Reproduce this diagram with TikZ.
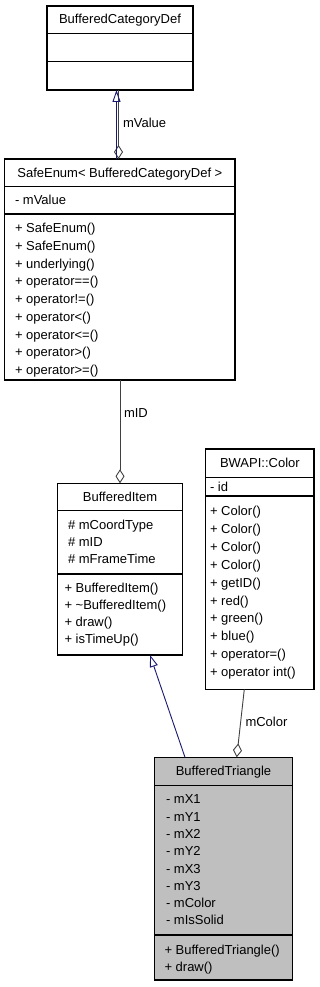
\documentclass[tikz,border=0pt]{standalone}
\usepackage{fontspec}
\setmainfont{Liberation Sans}
\usetikzlibrary{arrows.meta}
\definecolor{edgeblue}{HTML}{191970}
\definecolor{edgegray}{HTML}{404040}
\definecolor{hlgray}{HTML}{BFBFBF}
\tikzset{
 classbox/.style={draw=black, line width=1.1pt, fill=white, inner sep=0pt, outer sep=0pt},
 divline/.style={draw=black, line width=1.1pt},
 txt/.style={inner sep=0pt, outer sep=0pt, anchor=base west, font=\fontsize{13}{15}\selectfont},
 ctxt/.style={txt, anchor=base},
 inherit/.style={draw=edgeblue, line width=0.9pt, -{Triangle[open, length=12pt, width=8pt, line width=0.9pt]}},
 aggr/.style={draw=edgegray, line width=0.9pt, -{Diamond[open, length=14pt, width=9pt, line width=0.9pt]}},
}
\begin{document}
\begin{tikzpicture}[x=1pt,y=-1pt]
\useasboundingbox (0,0) rectangle (319,987);

% BufferedCategoryDef
\node[classbox, minimum width=146pt, minimum height=84pt] (cat) at (120,48) {};
\draw[divline] ([yshift=-27.7pt]cat.north west) -- ([yshift=-27.7pt]cat.north east);
\draw[divline] ([yshift=-55.7pt]cat.north west) -- ([yshift=-55.7pt]cat.north east);
\node[ctxt] (cat-t) at (120,23.5) {BufferedCategoryDef};

% SafeEnum
\node[classbox, minimum width=230.3pt, minimum height=221pt] (se) at (119.85,269.5) {};
\draw[divline] ([yshift=-27.7pt]se.north west) -- ([yshift=-27.7pt]se.north east);
\draw[divline] ([yshift=-55pt]se.north west) -- ([yshift=-55pt]se.north east);
\node[ctxt] (se-t) at (119.85,177.2) {SafeEnum< BufferedCategoryDef >};
\node[txt] (se-a0) at (15,204.5) {- mValue};
\foreach \s [count=\i from 0] in {SafeEnum(),SafeEnum(),underlying(),operator==(),operator!=(),operator<(),operator<=(),operator>(),operator>=()}
  \node[txt] (se-m\i) at (15,{232.8+17.7*\i}) {+ \s};

% BufferedItem
\node[classbox, minimum width=125.4pt, minimum height=171.7pt] (bi) at (120,569.15) {};
\draw[divline] ([yshift=-27.4pt]bi.north west) -- ([yshift=-27.4pt]bi.north east);
\draw[divline] ([yshift=-90.7pt]bi.north west) -- ([yshift=-90.7pt]bi.north east);
\node[ctxt] (bi-t) at (120,501.8) {BufferedItem};
\foreach \s [count=\i from 0] in {mCoordType,mID,mFrameTime}
  \node[txt] (bi-a\i) at (68,{529.5+17.2*\i}) {\# \s};
\foreach \s [count=\i from 0] in {BufferedItem(),{\textasciitilde BufferedItem()},draw(),isTimeUp()}
  \node[txt] (bi-m\i) at (64.5,{592.8+17*\i}) {+ \s};

% BWAPI::Color
\node[classbox, minimum width=108.3pt, minimum height=240.3pt] (col) at (259.85,569.15) {};
\draw[divline] ([yshift=-28.3pt]col.north west) -- ([yshift=-28.3pt]col.north east);
\draw[divline] ([yshift=-47pt]col.north west) -- ([yshift=-47pt]col.north east);
\node[ctxt] (col-t) at (259.85,467.2) {BWAPI::Color};
\node[txt] (col-a0) at (210,491.8) {- id};
\foreach \s [count=\i from 0] in {Color(),Color(),Color(),Color(),getID(),red(),green(),blue(),operator=(),operator int()}
  \node[txt] (col-m\i) at (210,{515.5+17.9*\i}) {+ \s};

% BufferedTriangle
\node[classbox, fill=hlgray, minimum width=138.4pt, minimum height=222.7pt] (bt) at (223.5,868.65) {};
\draw[divline] ([yshift=-28.4pt]bt.north west) -- ([yshift=-28.4pt]bt.north east);
\draw[divline] ([yshift=-177.7pt]bt.north west) -- ([yshift=-177.7pt]bt.north east);
\node[ctxt] (bt-t) at (223.5,775.5) {BufferedTriangle};
\foreach \s [count=\i from 0] in {mX1,mY1,mX2,mY2,mX3,mY3,mColor,mIsSolid}
  \node[txt] (bt-a\i) at (166,{803.8+17.3*\i}) {- \s};
\foreach \s [count=\i from 0] in {BufferedTriangle(),draw()}
  \node[txt] (bt-m\i) at (164.5,{954.5+16.7*\i}) {+ \s};

% connectors
\draw[aggr] ([xshift=-1.5pt]cat.south) -- ([xshift=-1.35pt]se.north);
\draw[inherit] ([xshift=-3.35pt]se.north) -- ([xshift=-3.5pt]cat.south);
\node[txt] (l-mvalue) at (123,127.2) {mValue};

\draw[aggr] ([xshift=0.15pt]se.south) -- (bi.north);
\node[txt] (l-mid) at (124,417.5) {mID};

\draw[inherit] ([xshift=-38.5pt]bt.north) -- ([xshift=30pt]bi.south);

\draw[aggr] ([xshift=-15.55pt]col.south) -- ([xshift=13.2pt]bt.north);
\node[txt] (l-mcolor) at (245.5,726.2) {mColor};
\end{tikzpicture}
\end{document}
